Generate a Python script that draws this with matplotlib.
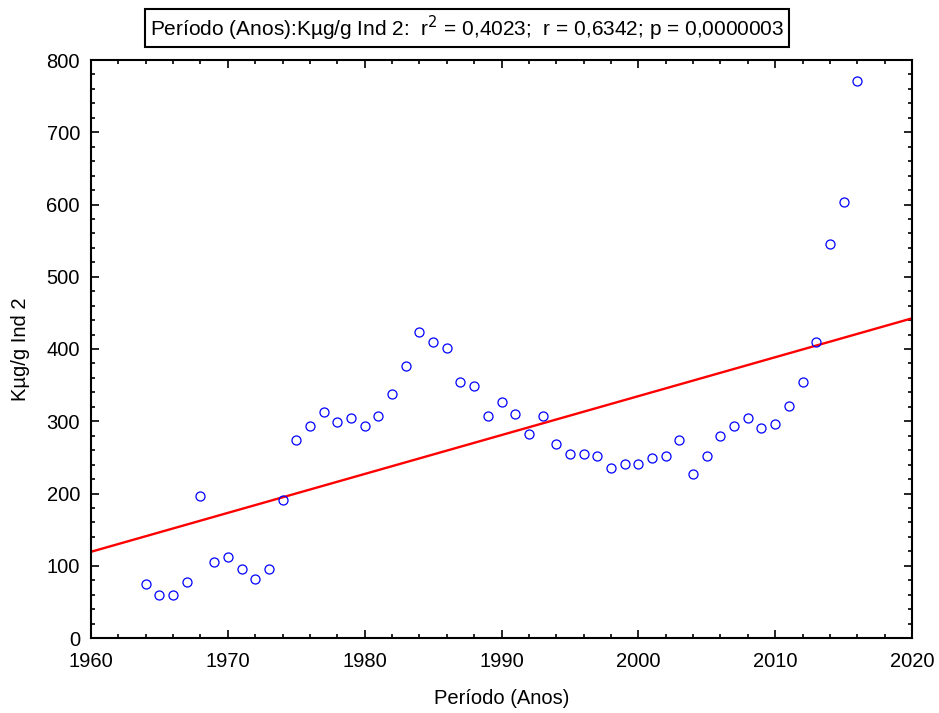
import matplotlib.pyplot as plt
from matplotlib.ticker import MultipleLocator
import numpy as np

plt.rcParams['font.family'] = ['Liberation Sans', 'DejaVu Sans']

years = np.arange(1964, 2017)
values = [75, 60, 60, 77, 197, 105, 112, 96, 82, 96,
          191, 274, 293, 313, 299, 304, 293, 307, 338, 376,
          423, 410, 401, 354, 349, 307, 327, 310, 282, 307,
          268, 255, 255, 252, 235, 241, 241, 249, 252, 274,
          227, 252, 280, 293, 304, 291, 296, 321, 354, 410,
          545, 603, 771]

# least squares fit across the full x range
slope, intercept = np.polyfit(years, values, 1)
x_fit = np.array([1960, 2020])
y_fit = slope * x_fit + intercept

fig = plt.figure(figsize=(9.39, 7.13), dpi=100)
ax = fig.add_axes([91 / 939, 75 / 713, 821 / 939, 578 / 713])

ax.plot(x_fit, y_fit, color='#ff0000', lw=1.7, zorder=2)
ax.plot(years, values, 'o', ms=6.5, mfc='none', mec='#0000ff', mew=0.9, zorder=3)

ax.set_xlim(1960, 2020)
ax.set_ylim(0, 800)
ax.xaxis.set_major_locator(MultipleLocator(10))
ax.xaxis.set_minor_locator(MultipleLocator(2))
ax.yaxis.set_major_locator(MultipleLocator(100))
ax.yaxis.set_minor_locator(MultipleLocator(20))
ax.tick_params(which='both', direction='in', top=True, right=True,
               labelsize=14.5, width=1.2, color='black')
ax.tick_params(which='major', length=6)
ax.tick_params(which='minor', length=3)
ax.tick_params(axis='x', which='major', pad=10)
ax.tick_params(axis='y', which='major', pad=8)
for s in ax.spines.values():
    s.set_linewidth(1.5)

ax.set_xlabel('Período (Anos)', fontsize=14.5, labelpad=13)
ax.set_ylabel('Kµg/g Ind 2', fontsize=14.5, labelpad=12)

fig.text(467 / 939, 1 - 28 / 713,
         'Período (Anos):Kµg/g Ind 2:  r$^2$ = 0,4023;  r = 0,6342; p = 0,0000003',
         ha='center', va='center', fontsize=15,
         bbox=dict(boxstyle='square,pad=0.22', fc='white', ec='black', lw=1.5))

fig.savefig('out.png', dpi=100)
